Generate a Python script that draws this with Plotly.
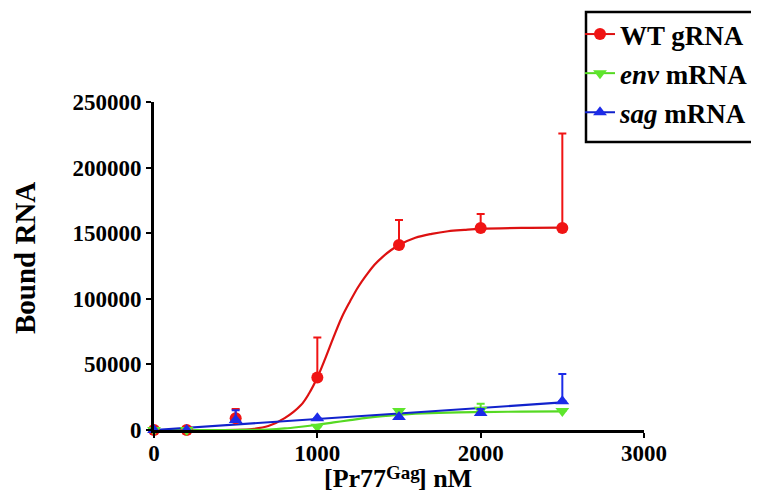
import plotly.graph_objects as go

# ---- data ----
conc = [0, 200, 500, 1000, 1500, 2000, 2500]

wt_vals = [0, 0, 9000, 40000, 141000, 154000, 154000]
wt_err = [0, 0, 7000, 30500, 19000, 10600, 72000]

env_vals = [0, 0, -800, 2500, 14500, 15500, 14500]
env_err = [0, 0, 0, 0, 1500, 4500, 0]

sag_vals = [0, 0, 7600, 9000, 10000, 13000, 22000]
sag_err = [0, 0, 7500, 0, 0, 3000, 20700]

# fitted curves
wt_fit_x = [0, 200, 400, 500, 600, 700, 800, 900, 950, 1000, 1050, 1100, 1150, 1200, 1250,
            1300, 1350, 1400, 1450, 1500, 1600, 1700, 1800, 1900, 2000, 2250, 2500]
wt_fit_y = [0, 0, 0, 100, 700, 3000, 9000, 19000, 28000, 40000, 55000, 71000, 86000, 98000, 109000,
            118000, 126000, 132000, 137000, 141000, 146500, 149500, 151500, 152500, 153300, 154000, 154200]

env_fit_x = [0, 500, 700, 800, 900, 1000, 1100, 1200, 1300, 1400, 1500, 1600, 1800, 2000, 2250, 2500]
env_fit_y = [0, 0, 400, 1200, 2500, 4000, 5800, 7500, 9200, 10600, 11600, 12400, 13300, 13700, 14000, 14200]

sag_fit_x = [0, 1000, 2000, 2500]
sag_fit_y = [0, 8400, 16800, 21000]

x_ticks = [0, 1000, 2000, 3000]
y_ticks = [0, 50000, 100000, 150000, 200000, 250000]

legend_names = ["<b>WT gRNA</b>", "<b><i>env</i> mRNA</b>", "<b><i>sag</i> mRNA</b>"]

RED, GREEN, BLUE = "#F01414", "#5EE62C", "#1C2BE8"
RED_L, GREEN_L, BLUE_L = "#DD1111", "#55D922", "#1122CC"
FONT = "Liberation Serif"

# plot-area geometry (pixels) used to place paper-referenced items
W, H = 759, 495
L, R, T, B = 146, 123, 94, 73
PW, PH = W - L - R, H - T - B


def px_x(p):
    return (p - L) / PW


def px_y(p):
    return (H - B - p) / PH


fig = go.Figure()

# fit curves
fig.add_trace(go.Scatter(x=wt_fit_x, y=wt_fit_y, mode="lines", line=dict(color=RED_L, width=2.2, shape="spline"),
                         showlegend=False, hoverinfo="skip", cliponaxis=False))
fig.add_trace(go.Scatter(x=env_fit_x, y=env_fit_y, mode="lines", line=dict(color=GREEN_L, width=2.2, shape="spline"),
                         showlegend=False, hoverinfo="skip", cliponaxis=False))
fig.add_trace(go.Scatter(x=sag_fit_x, y=sag_fit_y, mode="lines", line=dict(color=BLUE_L, width=2.2),
                         showlegend=False, hoverinfo="skip", cliponaxis=False))


def pts(yv, err, color, symbol):
    return go.Scatter(
        x=conc, y=yv, mode="markers",
        marker=dict(color=color, size=12, symbol=symbol),
        error_y=dict(type="data", symmetric=False, array=err, arrayminus=[0] * len(err),
                     color=color, thickness=2, width=4),
        cliponaxis=False, showlegend=False,
    )


fig.add_trace(pts(wt_vals, wt_err, RED, "circle"))
fig.add_trace(pts(env_vals, env_err, GREEN, "triangle-down"))
fig.add_trace(pts(sag_vals, sag_err, BLUE, "triangle-up"))

# legend entries
for i, (name, color, lcolor, sym) in enumerate(zip(legend_names, [RED, GREEN, BLUE], [RED_L, GREEN_L, BLUE_L],
                                                   ["circle", "triangle-down", "triangle-up"])):
    fig.add_trace(go.Scatter(x=[None], y=[None], mode="lines+markers", name=name, legendgroup=f"g{i}",
                             marker=dict(color=color, size=12, symbol=sym),
                             line=dict(color=lcolor, width=2)))

axis_common = dict(
    showline=True, linecolor="black", linewidth=3, ticks="outside", ticklen=5, tickwidth=2,
    tickcolor="black", showgrid=False, zeroline=False,
    tickfont=dict(family=FONT, size=23, color="black", weight="bold"),
)

TFONT = dict(family=FONT, size=26, color="black")
SFONT = dict(family=FONT, size=19, color="black")

fig.update_layout(
    width=W, height=H,
    margin=dict(l=L, r=R, t=T, b=B, autoexpand=False),
    paper_bgcolor="white", plot_bgcolor="white",
    xaxis=dict(range=[0, 3000], tickvals=x_ticks, ticktext=[str(v) for v in x_ticks],
               ticklabelstandoff=-5, **axis_common),
    yaxis=dict(range=[0, 250000], tickvals=y_ticks, ticktext=[str(v) for v in y_ticks], **axis_common),
    legend=dict(x=px_x(572), y=px_y(2), xanchor="left", yanchor="top",
                borderwidth=0, bgcolor="rgba(0,0,0,0)",
                font=dict(family=FONT, size=27, color="black"),
                tracegroupgap=1, itemwidth=30),
    showlegend=True,
    shapes=[dict(type="rect", xref="paper", yref="paper",
                 x0=px_x(578), x1=px_x(755), y0=px_y(4), y1=px_y(134),
                 line=dict(color="black", width=2.5), fillcolor="rgba(0,0,0,0)", layer="below")],
    annotations=[
        # x-axis title: [Pr77^Gag] nM
        dict(text="<b>[Pr77</b>", xref="paper", yref="paper",
             x=px_x(380), y=px_y(487), xanchor="right", yanchor="bottom", showarrow=False, font=TFONT),
        dict(text="<b>Gag</b>", xref="paper", yref="paper",
             x=px_x(376), y=px_y(452), xanchor="left", yanchor="top", showarrow=False, font=SFONT),
        dict(text="<b>] nM</b>", xref="paper", yref="paper",
             x=px_x(408), y=px_y(487), xanchor="left", yanchor="bottom", showarrow=False, font=TFONT),
        # y-axis title
        dict(text="<b>Bound RNA</b>", xref="paper", yref="paper", textangle=-90,
             x=px_x(17), y=px_y(250), xanchor="center", yanchor="middle", showarrow=False,
             font=dict(family=FONT, size=29, color="black")),
    ],
)

fig.write_html("out.html")
